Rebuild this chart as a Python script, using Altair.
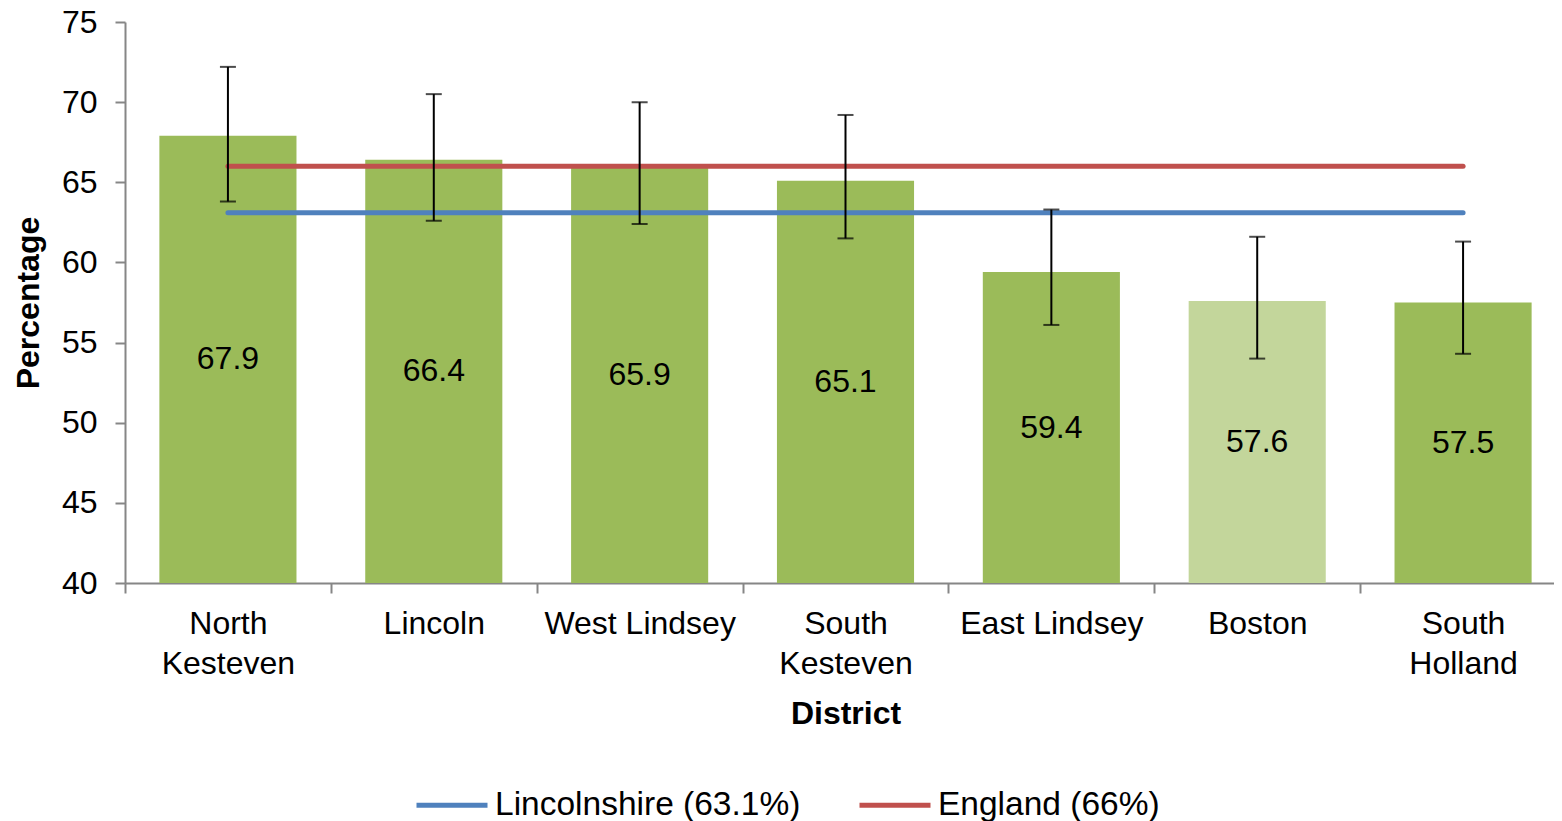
import altair as alt
import pandas as pd

districts = ["North Kesteven", "Lincoln", "West Lindsey", "South Kesteven",
             "East Lindsey", "Boston", "South Holland"]
values = [67.9, 66.4, 65.9, 65.1, 59.4, 57.6, 57.5]
lower = [63.8, 62.6, 62.4, 61.5, 56.1, 54.0, 54.3]
upper = [72.2, 70.5, 70.0, 69.2, 63.3, 61.6, 61.3]

ref_names = ["Lincolnshire (63.1%)", "England (66%)"]
ref_values = [63.1, 66.0]
ref_colors = ["#4f81bd", "#c0504d"]

two_line = ["North Kesteven", "South Kesteven", "South Holland"]

df = pd.DataFrame({"District": districts, "Value": values, "Low": lower, "High": upper})
ref = pd.DataFrame([{"District": d, "Series": n, "Ref": v}
                    for n, v in zip(ref_names, ref_values) for d in districts])

FONT = "Liberation Sans"
AXIS_GREY = "#868686"

label_expr = ("indexof(" + str(two_line).replace('"', "'") +
              ", datum.label) >= 0 ? split(datum.label, ' ') : datum.label")

x_scale = alt.Scale(paddingInner=0, paddingOuter=0)
x_enc = alt.X(
    "District:N", sort=districts, scale=x_scale,
    axis=alt.Axis(title="District", labelAngle=0, tickBand="extent",
                  labelExpr=label_expr, labelLineHeight=40, labelPadding=15,
                  titlePadding=19, tickSize=10, labelLimit=400),
)
x_plain = alt.X("District:N", sort=districts, scale=x_scale)
y_scale = alt.Scale(domain=[40, 75], nice=False, zero=False)
y_axis = alt.Axis(title="Percentage", values=list(range(40, 80, 5)), grid=False,
                  tickSize=10, labelPadding=18, titlePadding=16)

base = alt.Chart(df)

bars = base.mark_bar(width=alt.RelativeBandSize(0.666)).encode(
    x=x_enc,
    y=alt.Y("Value:Q", scale=y_scale, axis=y_axis),
    y2=alt.datum(40),
    color=alt.condition(alt.datum.District == "Boston",
                        alt.value("#c3d69b"), alt.value("#9bbb59")),
)

lines = alt.Chart(ref).mark_line(strokeWidth=5, strokeCap="round").encode(
    x=x_plain,
    y=alt.Y("Ref:Q", scale=y_scale),
    color=alt.Color("Series:N", sort=ref_names,
                    scale=alt.Scale(domain=ref_names, range=ref_colors),
                    legend=alt.Legend(title=None, orient="none", legendX=289, legendY=745,
                                      direction="horizontal", symbolType="stroke",
                                      symbolSize=5041, symbolStrokeWidth=5,
                                      labelFontSize=33.5, labelFont=FONT, labelColor="black",
                                      labelOffset=5, columnPadding=48, labelLimit=500,
                                      padding=0)),
)

err = base.mark_rule(color="black", strokeWidth=2).encode(
    x=x_plain,
    y=alt.Y("Low:Q", scale=y_scale),
    y2="High:Q",
)
cap_lo = base.mark_tick(color="black", size=16, thickness=2).encode(
    x=x_plain,
    y=alt.Y("Low:Q", scale=y_scale),
)
cap_hi = base.mark_tick(color="black", size=16, thickness=2).encode(
    x=x_plain,
    y=alt.Y("High:Q", scale=y_scale),
)

labels = base.transform_calculate(Mid="(40 + datum.Value) / 2").mark_text(
    fontSize=32, font=FONT, color="black", baseline="middle"
).encode(
    x=x_plain,
    y=alt.Y("Mid:Q", scale=y_scale),
    text=alt.Text("Value:Q", format=".1f"),
)

chart = alt.layer(bars, lines, err, cap_lo, cap_hi, labels).properties(
    width=1441, height=561,
    autosize=alt.AutoSizeParams(type="none"),
    padding={"left": 117, "top": 14, "right": -12, "bottom": 250},
).configure_view(stroke=None).configure_axis(
    domainColor=AXIS_GREY, tickColor=AXIS_GREY, domainWidth=2, tickWidth=2,
    labelFont=FONT, labelFontSize=32, labelColor="black",
    titleFont=FONT, titleFontSize=32, titleFontWeight="bold", titleColor="black",
)

chart.save("out.html", embed_options={"renderer": "svg", "actions": False})
